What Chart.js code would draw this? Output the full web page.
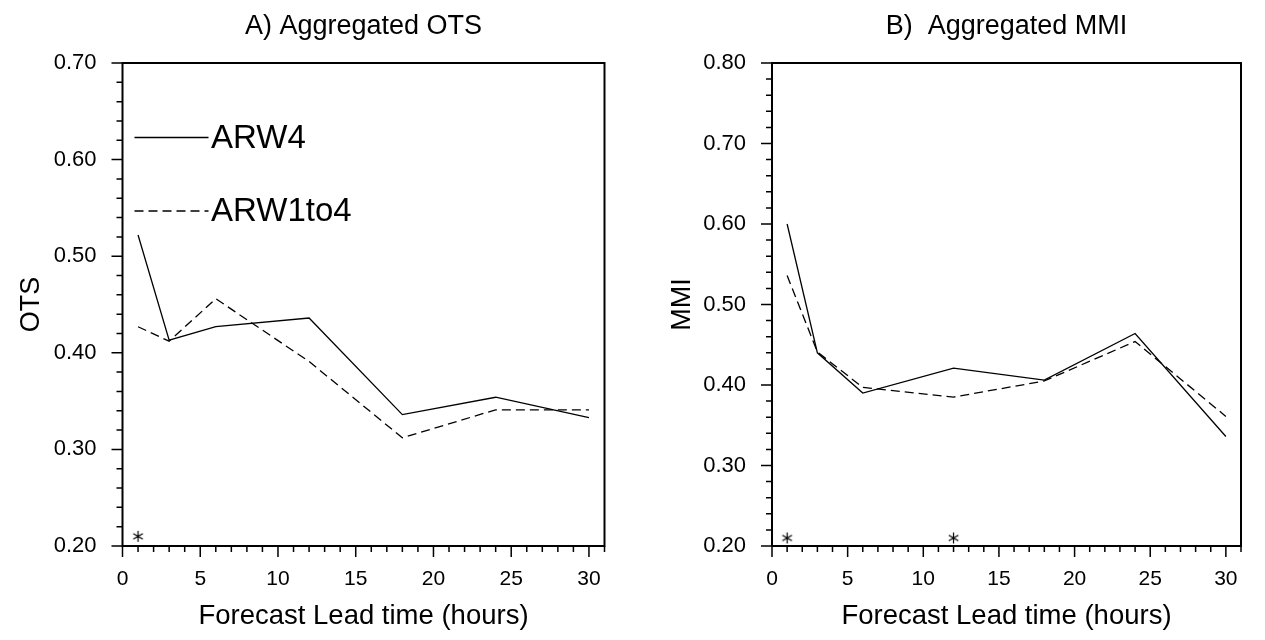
<!DOCTYPE html>
<html>
<head>
<meta charset="utf-8">
<title>Aggregated OTS / MMI</title>
<script src="https://cdn.jsdelivr.net/npm/chart.js@4.4.1/dist/chart.umd.min.js"></script>
<style>
    html, body { margin: 0; padding: 0; background: #fff; }
    #wrap { position: relative; width: 1265px; height: 640px; overflow: hidden; }
    canvas { position: absolute; top: 0; }
    #ots-chart { left: 0; }
    #mmi-chart { left: 632px; }
</style>
</head>
<body>
<div id="wrap">
    <canvas id="ots-chart" width="632" height="640"></canvas>
    <canvas id="mmi-chart" width="633" height="640"></canvas>
</div>
<script>
// forecast lead times (hours)
const leadHours = [1, 3, 6, 12, 18, 24, 30];

// A) aggregated OTS
const otsARW4 = [0.522, 0.413, 0.427, 0.436, 0.336, 0.354, 0.333];
const otsARW1to4 = [0.427, 0.412, 0.456, 0.391, 0.312, 0.341, 0.341];
const otsSigHours = [1];

// B) aggregated MMI
const mmiARW4 = [0.600, 0.440, 0.390, 0.421, 0.406, 0.464, 0.336];
const mmiARW1to4 = [0.536, 0.441, 0.397, 0.385, 0.405, 0.454, 0.361];
const mmiSigHours = [1, 12];

// asterisk level near the bottom axis
const sigLevel = 0.21;

// tick labels
const xTickValues = [0, 5, 10, 15, 20, 25, 30];
const otsYTicks = [0.20, 0.30, 0.40, 0.50, 0.60, 0.70];
const mmiYTicks = [0.20, 0.30, 0.40, 0.50, 0.60, 0.70, 0.80];

const FONT = "'Liberation Sans', Arial, Helvetica, sans-serif";
Chart.defaults.font.family = FONT;
Chart.defaults.color = '#000';

// 6-arm asterisk used as point style
function makeAsterisk() {
    const c = document.createElement('canvas');
    c.width = 13;
    c.height = 13;
    const g = c.getContext('2d');
    g.strokeStyle = '#000';
    g.lineWidth = 1.2;
    g.beginPath();
    g.moveTo(6.5, 1); g.lineTo(6.5, 12);
    g.moveTo(1.7, 3.7); g.lineTo(11.3, 9.3);
    g.moveTo(11.3, 3.7); g.lineTo(1.7, 9.3);
    g.stroke();
    return c;
}
const asterisk = makeAsterisk();

// frame plus major/minor tick marks (outside)
const frameTicks = {
    id: 'frameTicks',
    afterDraw(chart) {
        const { ctx, chartArea: a, scales: { x, y } } = chart;
        ctx.save();
        ctx.strokeStyle = '#000';
        ctx.lineWidth = 2;
        ctx.strokeRect(a.left, a.top, a.right - a.left, a.bottom - a.top);
        ctx.lineWidth = 1.5;
        ctx.beginPath();
        for (let v = x.min; v <= x.max + 1e-9; v += 1) {
            const px = x.getPixelForValue(v);
            const len = v % 5 === 0 ? 11 : 6;
            ctx.moveTo(px, a.bottom);
            ctx.lineTo(px, a.bottom + len);
        }
        const n = Math.round((y.max - y.min) / 0.02);
        for (let i = 0; i <= n; i++) {
            const py = y.getPixelForValue(y.min + i * 0.02);
            const len = i % 5 === 0 ? 11 : 6;
            ctx.moveTo(a.left, py);
            ctx.lineTo(a.left - len, py);
        }
        ctx.stroke();
        ctx.restore();
    }
};

// legend drawn inside the plot (line sample + label)
const lineKey = {
    id: 'lineKey',
    afterDatasetsDraw(chart, args, opts) {
        if (!opts.rows) return;
        const { ctx, chartArea: a } = chart;
        ctx.save();
        ctx.font = `33px ${FONT}`;
        ctx.textBaseline = 'middle';
        ctx.fillStyle = '#000';
        opts.rows.forEach(r => {
            const ds = chart.data.datasets[r.dataset];
            const yy = a.top + r.dy;
            ctx.strokeStyle = ds.borderColor;
            ctx.lineWidth = ds.borderWidth;
            ctx.setLineDash(ds.borderDash || []);
            ctx.beginPath();
            ctx.moveTo(a.left + 12, yy);
            ctx.lineTo(a.left + 86, yy);
            ctx.stroke();
            ctx.setLineDash([]);
            ctx.fillText(ds.label, a.left + 88.5, yy + 1);
        });
        ctx.restore();
    }
};

function toPoints(ys) {
    return leadHours.map((h, i) => ({ x: h, y: ys[i] }));
}

function buildChart(canvasId, cfg) {
    const ctx = document.getElementById(canvasId);
    return new Chart(ctx, {
        type: 'line',
        data: {
            datasets: [
                {
                    label: 'ARW4',
                    data: toPoints(cfg.solid),
                    borderColor: '#000',
                    borderWidth: 1.3,
                    pointRadius: 0,
                    tension: 0,
                    fill: false
                },
                {
                    label: 'ARW1to4',
                    data: toPoints(cfg.dashed),
                    borderColor: '#000',
                    borderWidth: 1.3,
                    borderDash: [9, 5],
                    pointRadius: 0,
                    tension: 0,
                    fill: false
                },
                {
                    label: 'sig',
                    data: cfg.sig.map(h => ({ x: h, y: sigLevel })),
                    showLine: false,
                    pointStyle: asterisk,
                    pointRadius: 6,
                    borderColor: '#000'
                }
            ]
        },
        options: {
            responsive: false,
            animation: false,
            layout: { padding: { top: 0, right: cfg.padRight, bottom: 0, left: 0 } },
            plugins: {
                legend: { display: false },
                tooltip: { enabled: false },
                title: {
                    display: true,
                    text: cfg.title,
                    fullSize: false,
                    color: '#000',
                    font: { size: 27, weight: 'normal', family: FONT },
                    padding: { top: 10.8, bottom: 19.8 }
                },
                lineKey: cfg.key || {}
            },
            scales: {
                x: {
                    type: 'linear',
                    min: 0,
                    max: 31,
                    afterBuildTicks: s => { s.ticks = xTickValues.map(v => ({ value: v })); },
                    afterFit: s => { s.height = 94; },
                    grid: { display: false, drawTicks: false },
                    border: { display: false },
                    ticks: {
                        autoSkip: false,
                        maxRotation: 0,
                        padding: 21,
                        color: '#000',
                        font: { size: 21 }
                    },
                    title: {
                        display: true,
                        text: 'Forecast Lead time (hours)',
                        color: '#000',
                        font: { size: 27.5 },
                        padding: { top: 0, bottom: 7 }
                    }
                },
                y: {
                    min: cfg.yTicks[0],
                    max: cfg.yTicks[cfg.yTicks.length - 1],
                    afterBuildTicks: s => { s.ticks = cfg.yTicks.map(v => ({ value: v })); },
                    afterFit: s => { s.width = cfg.yWidth; },
                    grid: { display: false, drawTicks: false },
                    border: { display: false },
                    ticks: {
                        padding: 26,
                        color: '#000',
                        font: { size: 22 },
                        callback: v => v.toFixed(2)
                    },
                    title: {
                        display: true,
                        text: cfg.yTitle,
                        color: '#000',
                        font: { size: 27 },
                        padding: { top: cfg.yTitlePad, bottom: 0 }
                    }
                }
            }
        },
        plugins: [frameTicks, lineKey]
    });
}

buildChart('ots-chart', {
    title: 'A) Aggregated OTS',
    yTitle: 'OTS',
    solid: otsARW4,
    dashed: otsARW1to4,
    sig: otsSigHours,
    yTicks: otsYTicks,
    yWidth: 122.5,
    padRight: 27.5,
    yTitlePad: 15,
    key: { rows: [{ dataset: 0, dy: 74.5 }, { dataset: 1, dy: 148 }] }
});

buildChart('mmi-chart', {
    title: 'B)  Aggregated MMI',
    yTitle: 'MMI',
    solid: mmiARW4,
    dashed: mmiARW1to4,
    sig: mmiSigHours,
    yTicks: mmiYTicks,
    yWidth: 140,
    padRight: 24,
    yTitlePad: 34
});
</script>
</body>
</html>
